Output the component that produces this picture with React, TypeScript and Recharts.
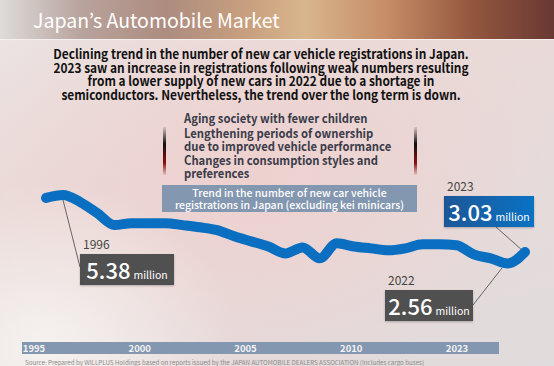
import React from 'react';
import { LineChart, Line, XAxis, YAxis } from 'recharts';

// new car registrations in Japan, excluding kei minicars (million units)
const years = [
  1995, 1996, 1997, 1998, 1999, 2000, 2001, 2002, 2003, 2004, 2005, 2006, 2007, 2008,
  2009, 2010, 2011, 2012, 2013, 2014, 2015, 2016, 2017, 2018, 2019, 2020, 2021, 2022, 2023,
];
const registrations = [
  5.26, 5.38, 5.09, 4.63, 4.14, 4.22, 4.22, 4.22, 4.14, 4.05, 3.93, 3.68, 3.47, 3.26,
  2.97, 3.22, 2.77, 3.39, 3.26, 3.18, 3.1, 3.18, 3.35, 3.35, 3.31, 2.93, 2.77, 2.56, 3.03,
];
const axisLabels = ['1995', '2000', '2005', '2010', '2023'];

const headline = [
  'Declining trend in the number of new car vehicle registrations in Japan.',
  '2023 saw an increase in registrations following weak numbers resulting',
  'from a lower supply of new cars in 2022 due to a shortage in',
  'semiconductors. Nevertheless, the trend over the long term is down.',
];
const factors = [
  ['Aging society with fewer children'],
  ['Lengthening periods of ownership', 'due to improved vehicle performance'],
  ['Changes in consumption styles and', 'preferences'],
];

const data = years.map((year, i) => ({ year, value: registrations[i] }));
const axisData = axisLabels.map((label) => ({ label }));

const FONT = '"Noto Sans CJK JP", "Noto Sans", sans-serif';

const Callout = ({ year, value, left, top, width, bg }: any) => (
  <>
    <div style={{ position: 'absolute', left: left + 3, top: top - 17, fontSize: 12, color: '#444', lineHeight: '14px' }}>
      {year}
    </div>
    <div
      style={{
        position: 'absolute', left, top, width, height: 31, background: bg,
        display: 'flex', alignItems: 'baseline', justifyContent: 'center', color: '#fff',
        boxShadow: '0 1px 2px rgba(0,0,0,0.25)',
      }}
    >
      <span style={{ fontSize: 22, lineHeight: '30px', fontWeight: 500 }}>{value.toFixed(2)}</span>
      <span style={{ fontSize: 10.5, marginLeft: 3 }}>million</span>
    </div>
  </>
);

const AxisTick = ({ x, y, payload }: any) => (
  <text x={x} y={y + 9.5} textAnchor="middle" fill="#f4f4f4" fontSize={9.5} fontWeight={700} fontFamily={FONT}>
    {payload.value}
  </text>
);

const Rule = ({ left }: { left: number }) => (
  <div
    style={{
      position: 'absolute', left, top: 127, width: 3, height: 48,
      background: 'linear-gradient(180deg, rgba(60,40,40,0.1), #111 35%, #8a1010 75%, rgba(160,30,30,0.1))',
    }}
  />
);

export default function App() {
  const first = registrations[1];
  const low = registrations[registrations.length - 2];
  const last = registrations[registrations.length - 1];

  return (
    <div
      style={{
        position: 'absolute', left: 0, top: 0, width: 554, height: 366, overflow: 'hidden', fontFamily: FONT,
        background:
          'radial-gradient(ellipse 35% 45% at 8% 95%, rgba(246,242,239,1), rgba(246,242,239,0) 100%),' +
          'radial-gradient(ellipse 55% 60% at 45% 48%, rgba(238,208,206,0.9), rgba(238,208,206,0) 100%),' +
          'linear-gradient(160deg, #ebe6e5 0%, #e9dad8 40%, #e5dbdb 70%, #e0dbdc 100%)',
      }}
    >
      {/* title bar */}
      <div
        style={{
          position: 'absolute', left: 0, top: 0, width: 554, height: 39,
          background:
            'linear-gradient(90deg, #dedcda 0%, #b8a29c 15%, #ad8c7f 30%, #c9a07f 45%, #d8b68d 55%, #c58c67 70%, #94573f 85%, #693833 100%)',
          borderBottom: '1px solid #f5f0ee',
        }}
      >
        <div style={{ position: 'absolute', left: 33, top: 7, fontSize: 19.5, color: '#fff', lineHeight: '25px' }}>
          Japan’s Automobile Market
        </div>
      </div>

      {/* headline */}
      <div
        style={{
          position: 'absolute', left: 11, top: 47, width: 500, textAlign: 'center', fontWeight: 700,
          fontSize: 13.2, lineHeight: '13.5px', color: '#111', whiteSpace: 'nowrap',
          transform: 'scaleX(0.9)', transformOrigin: '50% 0',
        }}
      >
        {headline.map((l) => (
          <div key={l}>{l}</div>
        ))}
      </div>

      {/* factors */}
      <Rule left={163} />
      <Rule left={414} />
      <div
        style={{
          position: 'absolute', left: 184, top: 111, fontWeight: 700, fontSize: 12.5, lineHeight: '13px',
          color: '#3b3c4a', whiteSpace: 'nowrap', transform: 'scaleX(0.9)', transformOrigin: '0 0',
        }}
      >
        {factors.map((f) => (
          <div key={f[0]} style={{ marginBottom: 1.5 }}>
            {f.map((l) => (
              <div key={l}>{l}</div>
            ))}
          </div>
        ))}
      </div>

      <div
        style={{
          position: 'absolute', left: 162, top: 185, width: 255, height: 27, background: '#8497b0',
          color: '#fff', fontSize: 10.5, lineHeight: '12px', textAlign: 'center', fontWeight: 500, paddingTop: 1.5,
          boxSizing: 'border-box',
        }}
      >
        <div>Trend in the number of new car vehicle</div>
        <div>registrations in Japan (excluding kei minicars)</div>
      </div>

      {/* leader lines */}
      <svg width={554} height={366} style={{ position: 'absolute', left: 0, top: 0 }}>
        <line x1={63} y1={200} x2={80} y2={267} stroke="#444" strokeWidth={0.8} />
        <line x1={473} y1={305} x2={502} y2={268} stroke="#444" strokeWidth={0.8} />
        <line x1={496} y1={227} x2={523} y2={251} stroke="#444" strokeWidth={0.8} />
      </svg>

      <div style={{ position: 'absolute', left: 0, top: 0 }}>
        <LineChart width={554} height={366} data={data} margin={{ top: 180, right: 29, bottom: 89, left: 46 }}>
          <XAxis dataKey="year" type="number" domain={[1995, 2023]} hide />
          <YAxis type="number" domain={[2, 6]} hide />
          <Line
            type="monotone"
            dataKey="value"
            stroke="#0a6fc0"
            strokeWidth={10}
            strokeLinecap="round"
            strokeLinejoin="round"
            dot={false}
            isAnimationActive={false}
          />
        </LineChart>
      </div>

      <Callout year="1996" value={first} left={80} top={254} width={94} bg="#505050" />
      <Callout year="2022" value={low} left={385} top={290} width={88} bg="#505050" />
      <Callout year="2023" value={last} left={444} top={196} width={90} bg="linear-gradient(90deg, #1d5797, #0a72c4)" />

      {/* axis band */}
      <div style={{ position: 'absolute', left: 22, top: 330, width: 477, height: 24 }}>
        <div style={{ position: 'absolute', left: 0, top: 12, width: 477, height: 12, background: '#8497b0' }} />
        <LineChart width={477} height={24} data={axisData} margin={{ top: 0, right: 0, bottom: 0, left: 0 }}>
          <XAxis
            dataKey="label"
            type="category"
            height={12}
            axisLine={false}
            tickLine={false}
            tickSize={0}
            tickMargin={0}
            interval={0}
            padding={{ left: 12, right: 42 }}
            tick={<AxisTick />}
          />
        </LineChart>
      </div>

      <div style={{ position: 'absolute', left: 25, top: 358, fontSize: 6.2, color: '#8a8a8a', lineHeight: '9px', whiteSpace: 'nowrap' }}>
        Source: Prepared by WILLPLUS Holdings based on reports issued by the JAPAN AUTOMOBILE DEALERS ASSOCIATION (Includes cargo buses)
      </div>
    </div>
  );
}
